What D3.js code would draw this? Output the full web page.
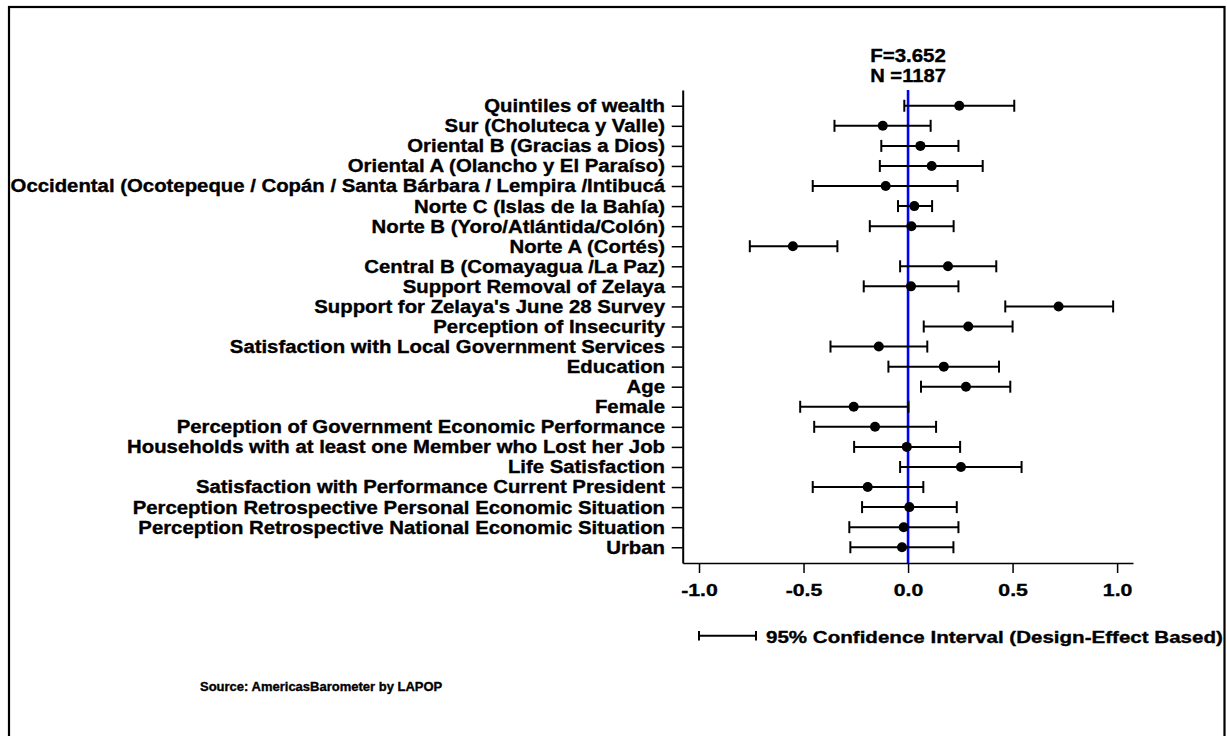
<!DOCTYPE html>
<html>
<head>
<meta charset="utf-8">
<script src="https://cdn.jsdelivr.net/npm/d3@7"></script>
<style>
  body { margin: 0; background: #fff; }
  svg { display: block; }
  text { font-family: "Liberation Sans", Arial, Helvetica, sans-serif; font-weight: bold; fill: #000; stroke: #000; stroke-width: 0.35px; }
</style>
</head>
<body>
<svg id="chart" width="1227" height="736"></svg>
<script>
// Regression coefficients with 95% confidence intervals (top to bottom)
const labels = [
  "Quintiles of wealth",
  "Sur (Choluteca y Valle)",
  "Oriental B (Gracias a Dios)",
  "Oriental A (Olancho y El Paraíso)",
  "Occidental (Ocotepeque / Copán / Santa Bárbara / Lempira /Intibucá ",
  "Norte C (Islas de la Bahía)",
  "Norte B (Yoro/Atlántida/Colón)",
  "Norte A (Cortés)",
  "Central B (Comayagua /La Paz)",
  "Support Removal of Zelaya",
  "Support for Zelaya's June 28 Survey",
  "Perception of Insecurity",
  "Satisfaction with Local Government Services",
  "Education",
  "Age",
  "Female",
  "Perception of Government Economic Performance",
  "Households with at least one Member who Lost her Job",
  "Life Satisfaction",
  "Satisfaction with Performance Current President",
  "Perception Retrospective Personal Economic Situation ",
  "Perception Retrospective National Economic Situation ",
  "Urban"
];
const estimates = [0.245, -0.121, 0.059, 0.113, -0.107, 0.030, 0.016, -0.551, 0.191, 0.014, 0.720, 0.288, -0.140, 0.171, 0.277, -0.260, -0.158, -0.006, 0.253, -0.193, 0.006, -0.021, -0.029];
const lower     = [-0.018, -0.352, -0.128, -0.135, -0.456, -0.048, -0.183, -0.757, -0.038, -0.212, 0.465, 0.075, -0.371, -0.094, 0.062, -0.516, -0.449, -0.258, -0.038, -0.456, -0.220, -0.281, -0.276];
const upper     = [0.508, 0.108, 0.241, 0.357, 0.237, 0.115, 0.218, -0.338, 0.422, 0.241, 0.981, 0.500, 0.092, 0.435, 0.489, 0.002, 0.134, 0.249, 0.543, 0.073, 0.233, 0.241, 0.217];
const xTicks = [-1.0, -0.5, 0.0, 0.5, 1.0];
const statLines = ["F=3.652", "N =1187"];
const legendText = "95% Confidence Interval (Design-Effect Based)";
const sourceText = "Source: AmericasBarometer by LAPOP";

const rows = labels.map((name, i) => ({ name, est: estimates[i], lo: lower[i], hi: upper[i] }));

const svg = d3.select("#chart");

// Outer frame
svg.append("rect")
  .attr("x", 9).attr("y", 7)
  .attr("width", 1215.5).attr("height", 740)
  .attr("fill", "none").attr("stroke", "#000").attr("stroke-width", 2.2);

const plot = { left: 682.7, right: 1133, top: 90, bottom: 563 };

const x = d3.scaleLinear().domain([-1.078, 1.076]).range([plot.left, plot.right]);
const y = d3.scalePoint().domain(labels).range([plot.top, plot.bottom]).padding(0.785);

// Stretch a text horizontally about its anchor point
function stretch(sel, sx) {
  sel.each(function () {
    const t = d3.select(this);
    const ax = +t.attr("x") || 0;
    t.attr("transform", `translate(${ax * (1 - sx)},0) scale(${sx},1)`);
  });
}
function fitWidth(sel, width) {
  const w = sel.node().getComputedTextLength();
  stretch(sel, width / w);
}

// Y axis with category labels
const yAxis = svg.append("g")
  .attr("transform", `translate(${plot.left},0)`)
  .call(d3.axisLeft(y).tickSize(11).tickSizeOuter(0));
yAxis.select(".domain").attr("stroke-width", 2);
yAxis.selectAll(".tick line").attr("stroke-width", 1.5);
yAxis.selectAll(".tick text")
  .attr("x", -17.7)
  .style("font-size", "18.5px")
  .style("font-family", '"Liberation Sans", Arial, sans-serif')
  .style("font-weight", "bold");
stretch(yAxis.selectAll(".tick text"), 1.1);

// X axis
const xAxis = svg.append("g")
  .attr("transform", `translate(0,${plot.bottom})`)
  .call(d3.axisBottom(x).tickValues(xTicks).tickFormat(d => d.toFixed(1)).tickSize(10).tickSizeOuter(0));
xAxis.select(".domain").attr("stroke-width", 1.5);
xAxis.selectAll(".tick line").attr("stroke-width", 1.5);
xAxis.selectAll(".tick text")
  .attr("y", 33).attr("dy", 0)
  .style("font-size", "17px")
  .style("font-family", '"Liberation Sans", Arial, sans-serif')
  .style("font-weight", "bold");
stretch(xAxis.selectAll(".tick text"), 1.25);

// Reference line at zero
svg.append("line")
  .attr("x1", x(0)).attr("x2", x(0))
  .attr("y1", plot.top).attr("y2", plot.bottom)
  .attr("stroke", "#0000ff").attr("stroke-width", 2.6);

// Confidence intervals
const cap = 6;
const ci = svg.append("g").attr("stroke", "#000").attr("stroke-width", 2);
ci.selectAll("line.ci").data(rows).join("line")
  .attr("class", "ci")
  .attr("x1", d => x(d.lo)).attr("x2", d => x(d.hi))
  .attr("y1", d => y(d.name)).attr("y2", d => y(d.name));
ci.selectAll("line.lo").data(rows).join("line")
  .attr("class", "lo")
  .attr("x1", d => x(d.lo)).attr("x2", d => x(d.lo))
  .attr("y1", d => y(d.name) - cap).attr("y2", d => y(d.name) + cap);
ci.selectAll("line.hi").data(rows).join("line")
  .attr("class", "hi")
  .attr("x1", d => x(d.hi)).attr("x2", d => x(d.hi))
  .attr("y1", d => y(d.name) - cap).attr("y2", d => y(d.name) + cap);

// Point estimates
svg.append("g").selectAll("circle").data(rows).join("circle")
  .attr("cx", d => x(d.est)).attr("cy", d => y(d.name))
  .attr("r", 5).attr("fill", "#000");

// F statistic and sample size
const stats = svg.append("g");
statLines.forEach((s, i) => {
  const t = stats.append("text")
    .attr("x", x(0)).attr("y", 61.7 + i * 20)
    .attr("text-anchor", "middle")
    .style("font-size", "18px")
    .text(s);
  fitWidth(t, 75.7);
});

// Legend
const lg = svg.append("g").attr("stroke", "#000").attr("stroke-width", 2);
lg.append("line").attr("x1", 699).attr("x2", 756).attr("y1", 635.7).attr("y2", 635.7);
lg.append("line").attr("x1", 699).attr("x2", 699).attr("y1", 631).attr("y2", 640.5);
lg.append("line").attr("x1", 756).attr("x2", 756).attr("y1", 631).attr("y2", 640.5);
const lt = svg.append("text")
  .attr("x", 766).attr("y", 643)
  .style("font-size", "17px")
  .text(legendText);
fitWidth(lt, 457);

// Source note
svg.append("text")
  .attr("x", 200).attr("y", 691)
  .style("font-size", "13px")
  .text(sourceText);
</script>
</body>
</html>
